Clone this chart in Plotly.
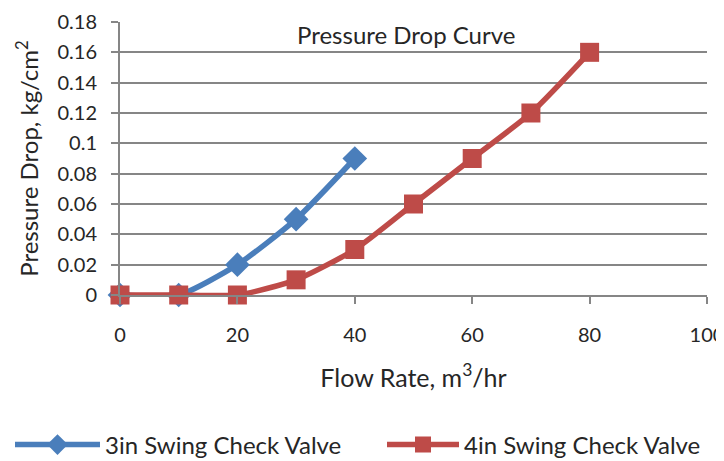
import plotly.graph_objects as go

flow_3in = [0, 10, 20, 30, 40]
dp_3in = [0, 0, 0.02, 0.05, 0.09]
flow_4in = [0, 10, 20, 30, 40, 50, 60, 70, 80]
dp_4in = [0, 0, 0, 0.01, 0.03, 0.06, 0.09, 0.12, 0.16]

FONT = "Lato"
W, H = 716, 453  # page body has an 8px margin
fig = go.Figure()
fig.add_trace(go.Scatter(
    x=flow_3in, y=dp_3in, name="3in Swing Check Valve", mode="lines+markers",
    line=dict(color="#4a7ebb", width=5.5, shape="spline", smoothing=0.6),
    marker=dict(symbol="diamond", size=19, color="#4a7ebb"), cliponaxis=False,
    legend="legend"))
fig.add_trace(go.Scatter(
    x=flow_4in, y=dp_4in, name="4in Swing Check Valve", mode="lines+markers",
    line=dict(color="#be4b48", width=5.5, shape="spline", smoothing=0.6),
    marker=dict(symbol="square", size=19, color="#be4b48"), cliponaxis=False,
    legend="legend2"))

fig.update_layout(
    width=W, height=H, showlegend=True,
    margin=dict(l=112, r=17, t=14, b=166),
    paper_bgcolor="white", plot_bgcolor="white",
    font=dict(family=FONT, color="#262626", size=20),
    annotations=[dict(text="Pressure Drop Curve", x=0.487, y=0.955, xref="paper", yref="paper",
                      xanchor="center", yanchor="middle", showarrow=False,
                      font=dict(size=24, family=FONT, color="#262626"))],
    legend=dict(orientation="h", x=2 / W, xref="container", y=0.0353, yref="container",
                xanchor="left", yanchor="middle", font=dict(size=24), visible=True,
                itemwidth=85, bgcolor="rgba(0,0,0,0)"),
    legend2=dict(orientation="h", x=374 / W, xref="container", y=0.0353, yref="container",
                 xanchor="left", yanchor="middle", font=dict(size=24), visible=True,
                 itemwidth=72, bgcolor="rgba(0,0,0,0)"),
)
fig.update_xaxes(range=[0, 100], dtick=20, tick0=0, showgrid=False, automargin=False,
                 showline=True, linecolor="#868686", linewidth=2,
                 ticks="outside", ticklen=7, tickcolor="#868686", tickwidth=2,
                 zeroline=False, ticklabelstandoff=14, ticklabeloverflow="allow",
                 title=dict(text="Flow Rate, m<sup>3</sup>/hr", font=dict(size=25), standoff=24))
fig.update_yaxes(range=[0, 0.18], dtick=0.02, tick0=0, showgrid=True, gridcolor="#868686",
                 gridwidth=2, showline=True, linecolor="#868686", linewidth=2, automargin=False,
                 ticks="outside", ticklen=7, tickcolor="#868686", tickwidth=2,
                 zeroline=False, tickformat="~g", ticklabelstandoff=10, ticklabeloverflow="allow",
                 title=dict(text="Pressure Drop, kg/cm<sup>2</sup>", font=dict(size=24), standoff=12))

fig.write_html("out.html")
